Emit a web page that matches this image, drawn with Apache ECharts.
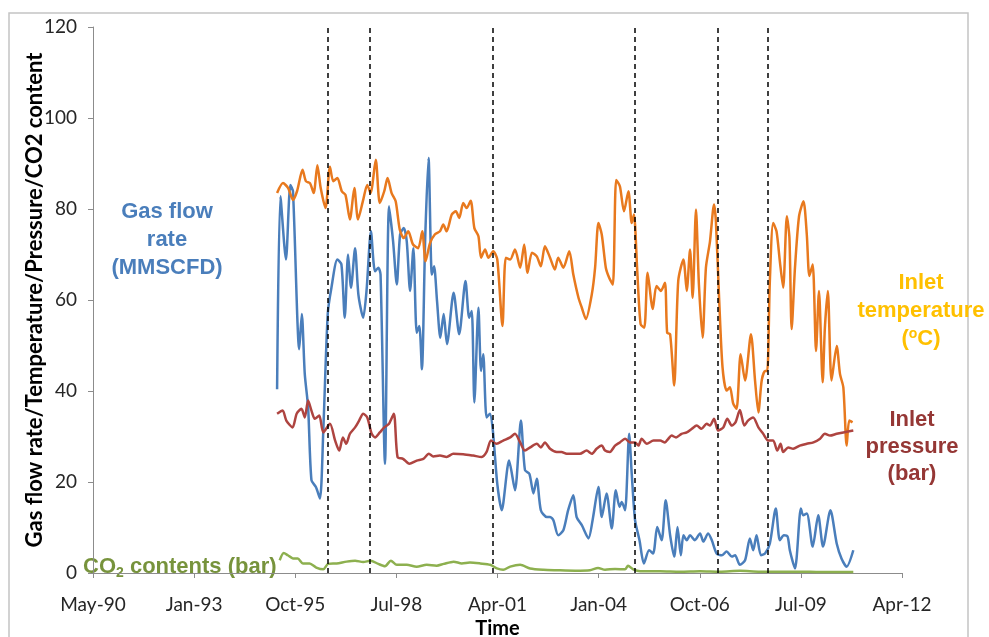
<!DOCTYPE html>
<html>
<head>
<meta charset="utf-8">
<title>Gas flow rate, inlet temperature, inlet pressure and CO2 content over time</title>
<script src="https://cdn.jsdelivr.net/npm/echarts@6/dist/echarts.min.js"></script>
<style>
  html, body { margin: 0; padding: 0; background: #ffffff; }
  #chart { width: 989px; height: 637px; }
</style>
</head>
<body>
<div id="chart"></div>
<script>
// Sample times in decimal years
const flowYears = [1995.33,1995.42,1995.57,1995.69,1995.76,1995.93,1996.00,1996.08,1996.17,1996.26,
  1996.38,1996.49,1996.58,1996.70,1996.80,1996.96,1997.07,1997.16,1997.25,1997.33,
  1997.44,1997.53,1997.66,1997.75,1997.87,1997.98,1998.07,1998.13,1998.25,1998.36,
  1998.47,1998.57,1998.66,1998.76,1998.84,1998.93,1999.02,1999.11,1999.18,1999.25,
  1999.34,1999.43,1999.52,1999.58,1999.66,1999.75,1999.84,1999.93,2000.11,2000.26,
  2000.43,2000.53,2000.60,2000.67,2000.78,2000.85,2000.91,2001.00,2001.09,2001.17,
  2001.29,2001.41,2001.61,2001.77,2001.93,2002.04,2002.16,2002.27,2002.36,2002.47,
  2002.63,2002.72,2002.81,2002.94,2003.08,2003.21,2003.35,2003.44,2003.58,2003.76,
  2003.88,2004.03,2004.12,2004.25,2004.39,2004.50,2004.60,2004.66,2004.75,2004.86,
  2004.93,2005.02,2005.14,2005.26,2005.40,2005.51,2005.62,2005.74,2005.85,2005.97,
  2006.08,2006.17,2006.26,2006.33,2006.42,2006.51,2006.64,2006.78,2006.87,2007.00,
  2007.10,2007.23,2007.37,2007.50,2007.64,2007.73,2007.86,2008.00,2008.13,2008.22,
  2008.31,2008.43,2008.54,2008.67,2008.83,2008.94,2009.05,2009.15,2009.21,2009.35,
  2009.51,2009.57,2009.67,2009.83,2009.98,2010.11,2010.31,2010.48,2010.61,2010.75,
  2010.93];
// Gas flow rate (MMSCFD)
const flowRate = [40.4,82.8,68.9,85.3,83.9,49.2,56.9,43.7,36.4,20.4,
  18.9,16.4,31.3,56.9,62.7,68.9,67.8,56.1,70.0,62.7,
  71.4,61.2,56.1,62.0,75.1,66.3,67.1,65.6,24.0,80.6,
  72.9,63.4,74.4,75.8,72.9,62.0,71.4,52.8,54.3,44.8,
  73.6,91.2,65.6,67.4,59.8,51.7,56.9,50.3,61.6,52.5,
  64.2,56.1,57.6,37.5,58.3,44.4,48.1,34.2,35.0,31.3,
  19.6,13.8,24.7,18.2,33.5,22.6,21.8,17.5,20.7,13.8,
  12.3,12.3,11.6,8.3,9.4,13.8,17.1,12.3,10.5,7.6,
  12.0,18.9,12.3,17.5,9.8,18.2,14.5,15.6,13.8,30.6,
  21.8,11.6,7.2,2.1,5.0,4.3,10.1,7.2,16.0,8.3,
  3.6,10.1,3.9,8.3,7.2,8.3,7.2,8.7,6.9,8.7,
  7.2,4.3,3.9,4.7,3.6,3.9,1.8,2.8,7.6,5.0,
  8.3,3.9,4.3,6.5,14.2,7.2,8.3,8.0,5.0,1.0,
  14.2,12.7,13.1,5.8,12.7,5.8,13.8,6.5,3.2,1.4,
  5.0];

const tempYears = [1995.33,1995.49,1995.63,1995.76,1995.87,1996.02,1996.11,1996.22,1996.32,1996.42,
  1996.51,1996.64,1996.76,1996.85,1996.96,1997.08,1997.18,1997.30,1997.42,1997.52,
  1997.66,1997.77,1997.86,1998.00,1998.11,1998.23,1998.32,1998.43,1998.54,1998.65,
  1998.76,1998.88,1999.01,1999.15,1999.26,1999.35,1999.47,1999.60,1999.74,1999.83,
  1999.92,2000.06,2000.17,2000.26,2000.37,2000.46,2000.57,2000.67,2000.78,2000.85,
  2000.96,2001.05,2001.18,2001.29,2001.43,2001.52,2001.64,2001.77,2001.91,2002.02,
  2002.11,2002.23,2002.36,2002.47,2002.58,2002.72,2002.85,2002.94,2003.08,2003.24,
  2003.35,2003.49,2003.58,2003.69,2003.85,2003.94,2004.03,2004.12,2004.23,2004.32,
  2004.42,2004.51,2004.61,2004.72,2004.84,2004.93,2004.99,2005.08,2005.17,2005.27,
  2005.36,2005.50,2005.60,2005.72,2005.83,2005.89,2005.97,2006.08,2006.19,2006.33,
  2006.42,2006.51,2006.58,2006.67,2006.75,2006.85,2006.94,2007.05,2007.16,2007.21,
  2007.30,2007.39,2007.50,2007.59,2007.68,2007.77,2007.88,2008.00,2008.16,2008.27,
  2008.36,2008.45,2008.54,2008.60,2008.67,2008.76,2008.85,2008.94,2009.03,2009.13,
  2009.20,2009.26,2009.35,2009.46,2009.58,2009.67,2009.74,2009.83,2009.92,2010.00,
  2010.10,2010.16,2010.24,2010.34,2010.48,2010.57,2010.66,2010.75,2010.82,2010.91];
// Inlet temperature (°C)
const inletTemp = [83.5,85.7,84.6,82.0,83.9,88.6,86.1,85.7,83.5,89.6,
  84.6,80.2,89.3,86.1,86.8,83.9,83.1,77.7,84.6,77.7,
  82.0,85.3,83.5,90.8,81.3,83.9,86.8,83.5,81.7,75.5,
  73.6,75.1,72.2,71.4,75.1,68.5,72.5,74.4,75.1,76.6,
  75.1,78.8,79.5,78.0,81.3,80.2,81.8,75.8,74.0,69.3,
  71.1,69.3,70.7,68.9,54.3,69.3,68.9,71.1,67.1,72.2,
  66.0,70.4,69.6,67.4,71.8,69.3,66.7,69.3,67.1,70.7,
  65.6,60.5,58.3,55.8,61.2,67.1,76.9,74.4,67.1,64.9,
  63.4,86.4,85.0,79.5,83.9,76.9,78.8,66.3,54.7,53.9,
  66.0,58.0,63.1,62.0,63.8,52.8,52.5,41.2,64.2,68.9,
  62.0,71.1,60.5,79.9,63.4,51.7,67.1,72.9,81.0,77.3,
  59.8,45.2,40.1,40.8,37.2,36.1,48.1,42.3,52.5,42.3,
  35.3,42.3,44.4,44.4,64.2,76.9,75.1,68.5,62.7,78.4,
  73.6,53.6,67.1,78.4,81.7,74.4,65.3,67.8,48.8,62.0,
  41.9,53.9,62.0,42.3,49.9,43.7,40.8,28.0,33.5,33.1];

const pressYears = [1995.33,1995.48,1995.58,1995.75,1995.86,1995.99,1996.08,1996.17,1996.26,1996.35,
  1996.47,1996.58,1996.76,1996.90,1997.01,1997.11,1997.20,1997.30,1997.44,1997.55,
  1997.66,1997.77,1997.89,1997.98,1998.11,1998.23,1998.36,1998.49,1998.59,1998.74,
  1998.91,1999.11,1999.29,1999.44,1999.56,1999.74,1999.92,2000.10,2000.37,2000.64,
  2000.87,2001.00,2001.12,2001.27,2001.45,2001.64,2001.77,2001.91,2002.04,2002.18,
  2002.36,2002.47,2002.58,2002.72,2002.90,2003.03,2003.17,2003.35,2003.53,2003.71,
  2003.85,2003.98,2004.12,2004.21,2004.34,2004.48,2004.61,2004.75,2004.89,2005.02,
  2005.11,2005.20,2005.34,2005.52,2005.70,2005.83,2005.92,2006.01,2006.13,2006.28,
  2006.42,2006.56,2006.69,2006.82,2006.96,2007.05,2007.16,2007.27,2007.41,2007.52,
  2007.64,2007.74,2007.86,2007.98,2008.08,2008.22,2008.36,2008.49,2008.63,2008.76,
  2008.87,2008.96,2009.03,2009.17,2009.30,2009.48,2009.67,2009.85,2010.03,2010.16,
  2010.30,2010.48,2010.66,2010.93];
// Inlet pressure (bar)
const inletPress = [35.0,35.7,33.5,32.0,35.0,36.1,34.2,37.9,35.7,33.9,
  34.6,30.9,32.8,29.1,26.9,29.8,28.4,30.6,32.0,33.5,
  35.0,34.2,30.6,29.8,30.9,32.0,32.8,35.0,25.5,25.1,
  24.0,24.7,25.1,26.2,25.6,25.8,25.5,26.2,26.1,25.8,
  25.5,26.6,29.1,28.4,29.1,29.8,30.6,28.7,26.9,27.6,
  28.4,27.6,28.7,27.3,26.6,26.6,26.2,26.2,26.2,26.9,
  26.2,27.3,28.0,26.9,26.6,28.0,28.7,29.5,28.7,28.7,
  28.0,29.5,28.4,29.1,29.1,28.7,29.5,30.2,29.8,30.6,
  30.9,31.7,32.4,31.7,32.8,32.4,33.9,31.3,32.0,33.9,
  32.4,33.1,35.8,32.4,33.5,34.2,32.0,30.6,29.1,29.1,
  26.9,28.4,26.6,27.6,27.3,28.0,28.4,28.7,29.5,30.6,
  30.2,30.6,30.9,31.3];

const co2Years = [1995.40,1995.51,1995.62,1995.76,1995.89,1996.03,1996.21,1996.39,1996.58,1996.71,
  1996.94,1997.21,1997.44,1997.66,1997.86,1998.07,1998.25,1998.41,1998.57,1998.84,
  1999.11,1999.38,1999.65,1999.84,2000.11,2000.33,2000.55,2000.83,2001.10,2001.28,
  2001.45,2001.64,2001.91,2002.18,2002.54,2002.90,2003.40,2003.80,2004.02,2004.21,
  2004.48,2004.75,2004.83,2004.97,2005.16,2005.70,2006.24,2006.78,2007.32,2007.86,
  2008.40,2008.94,2009.48,2010.03,2010.93];
// CO2 contents (bar)
const co2Content = [2.8,4.4,3.9,3.2,3.2,2.1,2.1,1.2,0.8,2.0,
  2.1,2.5,2.7,2.4,2.7,2.0,1.5,2.7,1.8,1.8,
  1.4,1.8,1.6,2.0,2.5,2.1,2.3,2.1,1.8,1.0,
  0.7,1.4,1.8,1.0,0.7,0.6,0.5,0.6,1.1,0.7,
  0.9,0.8,1.6,0.8,0.4,0.4,0.3,0.4,0.3,0.5,
  0.3,0.3,0.3,0.2,0.2];

// Operating events marked with dashed verticals
const eventYears = [1996.70, 1997.84, 2001.18, 2005.00, 2007.26, 2008.62];

// Date axis runs on spreadsheet day serials (day 0 = 1899-12-30)
const axisMinDay = 33000, axisMaxDay = 41000, axisStepDays = 1000;
const yMin = 0, yMax = 120, yStep = 20;
const MONTHS = ['Jan','Feb','Mar','Apr','May','Jun','Jul','Aug','Sep','Oct','Nov','Dec'];
const EPOCH = Date.UTC(1899, 11, 30);
const DAY = 86400000;

function yearToDay(t) {
  const y = Math.floor(t);
  const start = Date.UTC(y, 0, 1), end = Date.UTC(y + 1, 0, 1);
  return (start + (t - y) * (end - start) - EPOCH) / DAY;
}
function dayLabel(d) {
  const dt = new Date(EPOCH + Math.round(d) * DAY);
  return MONTHS[dt.getUTCMonth()] + '-' + String(dt.getUTCFullYear() % 100).padStart(2, '0');
}
function pairs(ts, vs) { return ts.map((t, i) => [yearToDay(t), vs[i]]); }

const labelFont = 'Lato';
const boxFont = '"Liberation Sans", Arial, sans-serif';

const chart = echarts.init(document.getElementById('chart'), null, { renderer: 'canvas' });
chart.setOption({
  animation: false,
  backgroundColor: '#ffffff',
  grid: { left: 93, right: 87, top: 27, bottom: 64, containLabel: false, outerBoundsMode: 'none' },
  xAxis: {
    type: 'value',
    min: axisMinDay, max: axisMaxDay, interval: axisStepDays,
    name: 'Time', nameLocation: 'middle', nameGap: 44,
    nameTextStyle: { fontFamily: labelFont, fontWeight: 'bold', fontSize: 20, color: '#000' },
    axisLine: { show: true, onZero: false, lineStyle: { color: '#8c8c8c', width: 1 } },
    axisTick: { show: true, inside: false, length: 5, lineStyle: { color: '#8c8c8c' } },
    splitLine: { show: false },
    axisLabel: { formatter: dayLabel, fontFamily: labelFont, fontSize: 19, color: '#262626', margin: 22 }
  },
  yAxis: {
    type: 'value',
    min: yMin, max: yMax, interval: yStep,
    name: 'Gas flow rate/Temperature/Pressure/CO2 content',
    nameLocation: 'middle', nameGap: 47, nameRotate: 90, nameMoveOverlap: false,
    nameTextStyle: { fontFamily: labelFont, fontWeight: 'bold', fontSize: 22, color: '#000' },
    axisLine: { show: true, lineStyle: { color: '#8c8c8c', width: 1 } },
    axisTick: { show: true, inside: false, length: 5, lineStyle: { color: '#8c8c8c' } },
    splitLine: { show: false },
    axisLabel: { fontFamily: labelFont, fontSize: 19, color: '#262626', margin: 16 }
  },
  series: [
    {
      name: 'Gas flow rate', type: 'line', data: pairs(flowYears, flowRate),
      showSymbol: false, smooth: 0.25,
      lineStyle: { color: '#4A7EBB', width: 2.5 }, itemStyle: { color: '#4A7EBB' },
      markLine: {
        silent: true, symbol: ['none', 'none'], label: { show: false },
        lineStyle: { color: '#000', type: [5, 4], width: 1.5 },
        data: eventYears.map(t => ({ xAxis: yearToDay(t) }))
      }
    },
    {
      name: 'Inlet temperature', type: 'line', data: pairs(tempYears, inletTemp),
      showSymbol: false, smooth: 0.25,
      lineStyle: { color: '#E8791E', width: 2.5 }, itemStyle: { color: '#E8791E' }
    },
    {
      name: 'Inlet pressure', type: 'line', data: pairs(pressYears, inletPress),
      showSymbol: false, smooth: 0.25,
      lineStyle: { color: '#AE4440', width: 2.5 }, itemStyle: { color: '#AE4440' }
    },
    {
      name: 'CO2 contents', type: 'line', data: pairs(co2Years, co2Content),
      showSymbol: false, smooth: 0.25,
      lineStyle: { color: '#8DB04F', width: 2.5 }, itemStyle: { color: '#8DB04F' }
    }
  ],
  graphic: [
    { type: 'rect', silent: true, z: -10,
      shape: { x: 9, y: 13, width: 959, height: 640 },
      style: { fill: 'none', stroke: '#c4c4c4', lineWidth: 1.5 } },
    { type: 'text', x: 167, y: 240, silent: true,
      style: { text: 'Gas flow\nrate\n(MMSCFD)', font: 'bold 22px ' + boxFont, fill: '#4A7EBB',
               align: 'center', verticalAlign: 'middle', textAlign: 'center', textVerticalAlign: 'middle', lineHeight: 28 } },
    { type: 'text', x: 921, y: 311, silent: true,
      style: { text: 'Inlet\ntemperature\n({sup|o}C)', font: 'bold 22px ' + boxFont, fill: '#FFC000',
               align: 'center', verticalAlign: 'middle', textAlign: 'center', textVerticalAlign: 'middle', lineHeight: 28,
               rich: { sup: { fontSize: 14, fontWeight: 'bold', fontFamily: boxFont, fill: '#FFC000', verticalAlign: 'top', lineHeight: 28, padding: [2, 0, 0, 0] } } } },
    { type: 'text', x: 912, y: 447, silent: true,
      style: { text: 'Inlet\npressure\n(bar)', font: 'bold 22px ' + boxFont, fill: '#953735',
               align: 'center', verticalAlign: 'middle', textAlign: 'center', textVerticalAlign: 'middle', lineHeight: 27 } },
    { type: 'text', x: 83, y: 567, silent: true,
      style: { text: 'CO{sub|2} contents (bar)', font: 'bold 22px ' + boxFont, fill: '#77933C',
               align: 'left', verticalAlign: 'middle', textAlign: 'left', textVerticalAlign: 'middle', lineHeight: 26,
               rich: { sub: { fontSize: 14, fontWeight: 'bold', fontFamily: boxFont, fill: '#77933C', verticalAlign: 'bottom', lineHeight: 26 } } } }
  ]
});
</script>
</body>
</html>
